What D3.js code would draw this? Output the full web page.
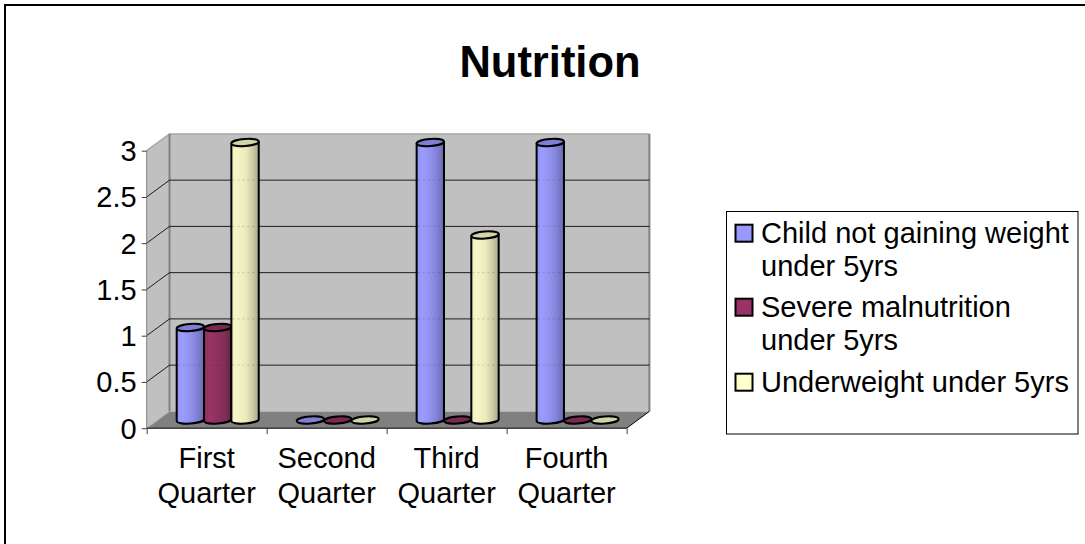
<!DOCTYPE html>
<html><head><meta charset="utf-8">
<script src="https://cdn.jsdelivr.net/npm/d3@7"></script>
<style>html,body{margin:0;padding:0;background:#fff}svg{display:block}text{font-family:"Liberation Sans",Arial,sans-serif;fill:#000}</style>
</head><body><svg id="c" width="1085" height="544"></svg>
<script>
const title = "Nutrition";
const categories = [["First","Quarter"],["Second","Quarter"],["Third","Quarter"],["Fourth","Quarter"]];
const seriesNames = [["Child not gaining weight","under 5yrs"],["Severe malnutrition","under 5yrs"],["Underweight under 5yrs"]];
const childNotGaining = [1,0,3,3];
const severeMalnutrition = [1,0,0,0];
const underweight = [3,0,2,0];
const yTicks = [0,0.5,1,1.5,2,2.5,3];
const seriesValues = [childNotGaining,severeMalnutrition,underweight];
const legendColors = ["#9999ff","#993366","#ffffcc"];
const topColors = ["#7f7fd4","#7a2952","#d4d4aa"];
const stops = [
 ["#9292f2","#9c9cff","#8e8eea","#8080d4","#6a6ab0"],
 ["#8f3060","#9c3468","#8c2f5e","#803056","#662544"],
 ["#f0f0c0","#f6f6c8","#e8e8ba","#d0d0a8","#aaaa88"]];
const stopAt = [0,.2,.55,.75,1];

const svg = d3.select("#c");
const x = d3.scaleLinear().domain([0,4]).range([146.7,626.6]);
const y = d3.scaleLinear().domain([0,3]).range([428.2,150.7]);
const dx = 22.8, dy = -16.8;

svg.append("path").attr("d","M5,544V5H1085").attr("fill","none").attr("stroke","#000").attr("stroke-width",2);
svg.append("text").text(title).attr("x",550).attr("y",77).attr("text-anchor","middle").attr("font-size",43.5).attr("font-weight","bold");

const x0=x(0),x1=x(4),y0=y(0),y3=y(3);
svg.append("path").attr("d",`M${x0},${y0}L${x0},${y3}L${x0+dx},${y3+dy}L${x0+dx},${y0+dy}Z`).attr("fill","#c0c0c0");
svg.append("rect").attr("x",x0+dx).attr("y",y3+dy).attr("width",x1-x0).attr("height",y0-y3).attr("fill","#c0c0c0");
svg.append("path").attr("d",`M${x0},${y0}L${x1},${y0}L${x1+dx},${y0+dy}L${x0+dx},${y0+dy}Z`).attr("fill","#808080");
svg.append("path").attr("d",`M${x0},${y3}L${x0+dx},${y3+dy}L${x1+dx},${y3+dy}`).attr("fill","none").attr("stroke","#a6a6a6").attr("stroke-width",1.5);
svg.append("path").attr("d",`M${x0+dx},${y3+dy}V${y0+dy}M${x1+dx},${y3+dy}V${y0+dy}`).attr("fill","none").attr("stroke","#808080").attr("stroke-width",2);
yTicks.slice(1,-1).forEach(t=>{
  svg.append("path").attr("d",`M${x0},${y(t)}L${x0+dx},${y(t)+dy}L${x1+dx},${y(t)+dy}`).attr("fill","none").attr("stroke","#000").attr("stroke-width",1).attr("stroke-opacity",.85);
});
svg.append("path").attr("d",`M${x1},${y0}L${x1+dx},${y0+dy}`).attr("stroke","#000");
svg.append("path").attr("d",`M${x0},${y0}L${x0+dx},${y0+dy}`).attr("stroke","#b0b0b0");

const yAxis = d3.axisLeft(y).tickValues(yTicks).tickSize(5).tickPadding(5).tickFormat(d=>String(d));
const gy = svg.append("g").attr("transform",`translate(${x0},0)`).call(yAxis);
gy.select(".domain").attr("stroke","#808080").attr("d",`M0,${y3}V${y0}`);
gy.selectAll("line").attr("stroke","#404040");
gy.selectAll("text").attr("font-size",29).attr("font-family",'"Liberation Sans"').attr("fill","#000").attr("dy","0.34em");
const xa = d3.axisBottom(x).tickValues([0,1,2,3,4]).tickSize(6).tickFormat("");
const gx = svg.append("g").attr("transform",`translate(0,${y0})`).call(xa);
gx.select(".domain").attr("stroke","#000").attr("d",`M${x0},0H${x1}`);
gx.selectAll("line").attr("stroke","#404040");
categories.forEach((c,i)=>{
  c.forEach((s,j)=>svg.append("text").text(s).attr("x",x(i+.5)).attr("y",467.7+j*35).attr("text-anchor","middle").attr("font-size",29));
});

const defs = svg.append("defs");
stops.forEach((st,i)=>{
  const g = defs.append("linearGradient").attr("id","g"+i);
  st.forEach((c,k)=>g.append("stop").attr("offset",stopAt[k]).attr("stop-color",c));
});

const band = d3.scaleBand().domain([0,1,2]).range([0.25,0.25+3*27.35/120]);
const ry = 3.5, tilt = -4, lift = 8.2;
seriesValues.forEach((vals,s)=>{
  vals.forEach((v,i)=>{
    const xl = x(i+band(s)), w = x(band.bandwidth())-x(0), xr = xl+w, cx=xl+w/2;
    const base = y(0)-lift, top = y(v)-lift;
    const rx = w/2, t = Math.sin(tilt*Math.PI/180)*rx, g = svg.append("g");
    if(v>0){
      g.append("path").attr("d",`M${xl},${top-t}L${xl},${base-t}A${rx},${ry} ${tilt} 0 0 ${xr},${base+t}L${xr},${top+t}Z`)
        .attr("fill",`url(#g${s})`).attr("stroke","#000").attr("stroke-width",2).attr("stroke-linejoin","round");
      yTicks.filter(k=>k>0&&k<v).forEach(k=>{
        g.append("line").attr("x1",xl+1).attr("x2",xr-1).attr("y1",y(k)+dy).attr("y2",y(k)+dy)
          .attr("stroke","#000").attr("stroke-opacity",.18).attr("stroke-dasharray","2 3");
      });
    }
    g.append("ellipse").attr("cx",cx).attr("cy",top).attr("rx",rx).attr("ry",ry)
      .attr("transform",`rotate(${tilt} ${cx} ${top})`)
      .attr("fill",topColors[s]).attr("stroke","#000").attr("stroke-width",2);
  });
});

const lg = svg.append("g");
lg.append("rect").attr("x",726.5).attr("y",211.5).attr("width",351.5).attr("height",222.5).attr("fill","#fff").attr("stroke","#000");
const entryY=[242.7,316.7,391.7];
seriesNames.forEach((n,i)=>{
  lg.append("rect").attr("x",735.5).attr("y",entryY[i]-18).attr("width",17).attr("height",17).attr("fill",legendColors[i]).attr("stroke","#000").attr("stroke-width",2);
  n.forEach((s,j)=>lg.append("text").text(s).attr("x",761).attr("y",entryY[i]+j*33).attr("font-size",29));
});
</script></body></html>
